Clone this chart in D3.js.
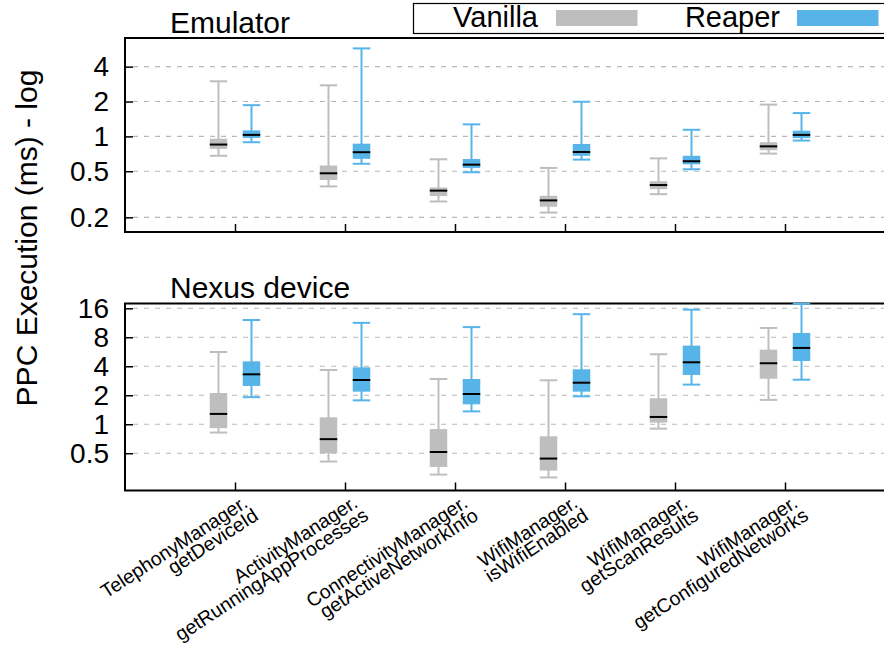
<!DOCTYPE html>
<html>
<head>
<meta charset="utf-8">
<script src="https://cdn.jsdelivr.net/npm/d3@7"></script>
<style>
  html, body { margin: 0; padding: 0; background: #fff; }
  svg { display: block; font-family: "Liberation Sans", Arial, Helvetica, sans-serif; }
</style>
</head>
<body>
<svg id="chart" width="884" height="650"></svg>
<script>
// API calls measured (two-line axis labels)
const categories = [
  ["TelephonyManager.", "getDeviceId"],
  ["ActivityManager.", "getRunningAppProcesses"],
  ["ConnectivityManager.", "getActiveNetworkInfo"],
  ["WifiManager.", "isWifiEnabled"],
  ["WifiManager.", "getScanResults"],
  ["WifiManager.", "getConfiguredNetworks"]
];
const series = ["Vanilla", "Reaper"];

// Box statistics per call: [min, q1, median, q3, max] in ms
const emulatorVanilla = [
  [0.68, 0.78, 0.85, 0.955, 2.99],
  [0.37, 0.42, 0.48, 0.56, 2.76],
  [0.274, 0.305, 0.34, 0.362, 0.634],
  [0.22, 0.247, 0.28, 0.307, 0.534],
  [0.317, 0.35, 0.38, 0.41, 0.646],
  [0.71, 0.76, 0.82, 0.89, 1.88]
];
const emulatorReaper = [
  [0.89, 0.97, 1.03, 1.126, 1.86],
  [0.58, 0.64, 0.73, 0.865, 5.75],
  [0.49, 0.534, 0.57, 0.638, 1.27],
  [0.63, 0.68, 0.733, 0.86, 1.99],
  [0.52, 0.574, 0.61, 0.68, 1.14],
  [0.92, 0.967, 1.03, 1.12, 1.59]
];
const nexusVanilla = [
  [0.82, 0.91, 1.28, 2.11, 5.63],
  [0.41, 0.5, 0.7, 1.18, 3.66],
  [0.3, 0.36, 0.515, 0.89, 2.95],
  [0.28, 0.33, 0.44, 0.75, 2.86],
  [0.9, 1.04, 1.19, 1.86, 5.33],
  [1.79, 2.97, 4.3, 5.95, 10.0]
];
const nexusReaper = [
  [1.91, 2.5, 3.3, 4.5, 12.1],
  [1.77, 2.18, 2.88, 3.9, 11.3],
  [1.36, 1.61, 2.06, 2.95, 10.2],
  [1.95, 2.18, 2.7, 3.72, 13.9],
  [2.58, 3.25, 4.4, 6.55, 15.5],
  [2.9, 4.54, 6.2, 8.87, 17.8]
];

const emulatorTicks = [0.2, 0.5, 1, 2, 4];
const nexusTicks = [0.5, 1, 2, 4, 8, 16];

const colors = { Vanilla: "#bebebe", Reaper: "#56b4e9" };

const svg = d3.select("#chart");

const left = 125, right = 895;
const x = d3.scaleLinear().domain([0, categories.length + 1]).range([left, right]);
const offset = d3.scalePoint().domain(series).range([-16.5, 16.5]);
const boxW = 17.5;

function panel(title, top, bottom, domain, ticks, vanilla, reaper, titleY) {
  const y = d3.scaleLog().base(2).domain(domain).range([bottom, top]);
  const g = svg.append("g");

  // dashed grid
  g.selectAll("line.grid").data(ticks).join("line")
    .attr("x1", left + 8).attr("x2", 884)
    .attr("y1", d => y(d)).attr("y2", d => y(d))
    .attr("stroke", "#b8b8b8").attr("stroke-width", 1.1)
    .attr("stroke-dasharray", "5,6");

  // y axis: inward ticks, labels on the left
  const yAxis = d3.axisLeft(y).tickValues(ticks).tickSize(-8).tickPadding(16)
    .tickFormat(d3.format("~g"));
  const ya = g.append("g").attr("transform", `translate(${left},0)`).call(yAxis);
  ya.select(".domain").remove();
  ya.selectAll(".tick line").attr("stroke", "#000").attr("stroke-width", 1.5);
  ya.selectAll(".tick text").attr("font-size", 28).attr("fill", "#000")
    .attr("font-family", "Liberation Sans, Arial, sans-serif");

  // x ticks (inward, no labels here)
  const xAxis = d3.axisBottom(x).tickValues(d3.range(1, categories.length + 1))
    .tickSize(-8).tickFormat("");
  const xa = g.append("g").attr("transform", `translate(0,${bottom})`).call(xAxis);
  xa.select(".domain").remove();
  xa.selectAll(".tick line").attr("stroke", "#000").attr("stroke-width", 1.5);

  // frame
  g.append("path")
    .attr("d", `M884,${top}H${left}V${bottom}H884`)
    .attr("fill", "none").attr("stroke", "#000").attr("stroke-width", 2);

  const sets = [["Vanilla", vanilla], ["Reaper", reaper]];
  sets.forEach(([name, data]) => {
    const col = colors[name];
    const bg = g.append("g");
    data.forEach((s, i) => {
      const cx = x(i + 1) + offset(name);
      const [mn, q1, med, q3, mx] = s;
      // whiskers
      bg.append("line").attr("x1", cx).attr("x2", cx)
        .attr("y1", y(mn)).attr("y2", y(mx))
        .attr("stroke", col).attr("stroke-width", 2);
      [mn, mx].forEach(v => bg.append("line")
        .attr("x1", cx - boxW / 2).attr("x2", cx + boxW / 2)
        .attr("y1", y(v)).attr("y2", y(v))
        .attr("stroke", col).attr("stroke-width", 2));
      // box
      bg.append("rect")
        .attr("x", cx - boxW / 2).attr("width", boxW)
        .attr("y", y(q3)).attr("height", y(q1) - y(q3))
        .attr("fill", col);
      // median
      bg.append("line").attr("x1", cx - boxW / 2).attr("x2", cx + boxW / 2)
        .attr("y1", y(med)).attr("y2", y(med))
        .attr("stroke", "#000").attr("stroke-width", 2);
    });
  });

  svg.append("text").attr("x", 170).attr("y", titleY)
    .attr("font-size", 30).attr("fill", "#000").text(title);
}

panel("Emulator", 38, 232, [0.1494, 7.07], emulatorTicks, emulatorVanilla, emulatorReaper, 33);
panel("Nexus device", 303.5, 490.5, [0.205, 17.95], nexusTicks, nexusVanilla, nexusReaper, 298);

// y axis title
svg.append("text")
  .attr("transform", "translate(37,238) rotate(-90)")
  .attr("text-anchor", "middle").attr("font-size", 30).attr("fill", "#000")
  .text("PPC Execution (ms) - log");

// rotated two-line category labels
const xl = svg.append("g");
categories.forEach((lines, i) => {
  const t = xl.append("g")
    .attr("transform", `translate(${x(i + 1) + 14},506) rotate(-33)`);
  t.append("text").attr("x", 0).attr("y", 0)
    .attr("text-anchor", "end").attr("font-size", 19.5).attr("fill", "#000")
    .text(lines[0]);
  t.append("text").attr("x", 2).attr("y", 16.5)
    .attr("text-anchor", "end").attr("font-size", 19.5).attr("fill", "#000")
    .text(lines[1]);
});

// legend
const lg = svg.append("g");
lg.append("rect").attr("x", 413.5).attr("y", 3.5).attr("width", 480).attr("height", 30)
  .attr("fill", "#fff").attr("stroke", "#000").attr("stroke-width", 1.2);
const legendItems = [
  { name: "Vanilla", textEnd: 538, sw: 556 },
  { name: "Reaper", textEnd: 780, sw: 797 }
];
legendItems.forEach(it => {
  lg.append("text").attr("x", it.textEnd).attr("y", 27)
    .attr("text-anchor", "end").attr("font-size", 29).attr("fill", "#000").text(it.name);
  lg.append("rect").attr("x", it.sw).attr("y", 10).attr("width", 81.5).attr("height", 16)
    .attr("fill", colors[it.name]);
});
</script>
</body>
</html>
